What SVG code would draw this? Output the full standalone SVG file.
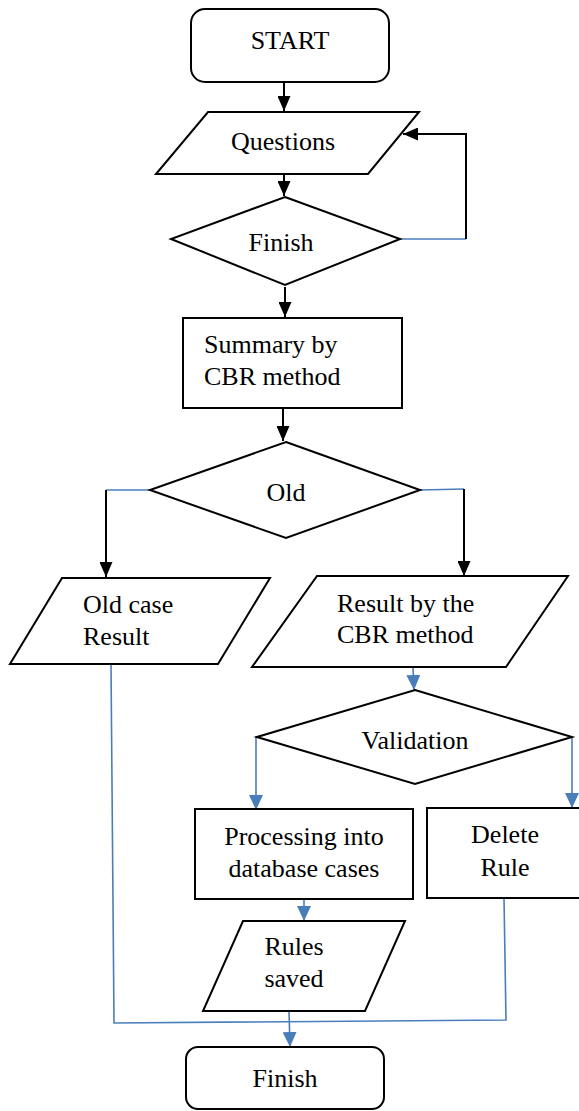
<svg xmlns="http://www.w3.org/2000/svg" width="579" height="1111" viewBox="0 0 579 1111">
<style>
.n{fill:#fff;stroke:#000;stroke-width:2}
.t{font-family:"Liberation Serif","Times New Roman",serif;font-size:26px;fill:#000}
.c{text-anchor:middle}
.k{fill:none;stroke:#000;stroke-width:2}
.b{fill:none;stroke:#4a7ebb;stroke-width:1.6}
</style>
<defs>
<marker id="ak" markerUnits="userSpaceOnUse" markerWidth="15" markerHeight="13" refX="15" refY="6.5" orient="auto"><path d="M0,0 L15,6.5 L0,13 z" fill="#000"/></marker>
<marker id="ab" markerUnits="userSpaceOnUse" markerWidth="15" markerHeight="14" refX="15" refY="7" orient="auto"><path d="M0,0 L15,7 L0,14 z" fill="#4a7ebb"/></marker>
</defs>
<rect width="579" height="1111" fill="#fff"/>
<g id="connectors">
<line class="k" x1="284" y1="83" x2="284" y2="111" marker-end="url(#ak)"/>
<line class="k" x1="284" y1="174" x2="284" y2="196" marker-end="url(#ak)"/>
<line class="b" x1="400" y1="239" x2="466" y2="239"/>
<polyline class="k" points="466,239 466,134 403,134" marker-end="url(#ak)"/>
<line class="k" x1="285" y1="287" x2="285" y2="317" marker-end="url(#ak)"/>
<line class="k" x1="283" y1="408" x2="283" y2="441" marker-end="url(#ak)"/>
<line class="b" x1="150" y1="490" x2="106" y2="490"/>
<line class="k" x1="106" y1="490" x2="106" y2="577" marker-end="url(#ak)"/>
<line class="b" x1="420" y1="490" x2="464" y2="489"/>
<line class="k" x1="464" y1="489" x2="464" y2="576" marker-end="url(#ak)"/>
<line class="b" x1="413" y1="667" x2="414" y2="690" marker-end="url(#ab)"/>
<line class="b" x1="256" y1="737" x2="256" y2="810" marker-end="url(#ab)"/>
<line class="b" x1="572" y1="737" x2="572" y2="808" marker-end="url(#ab)"/>
<line class="b" x1="304" y1="899" x2="304" y2="921" marker-end="url(#ab)"/>
<polyline class="b" points="111,664 114,1023 506,1020 504,898"/>
<line class="b" x1="289" y1="1011" x2="290" y2="1047" marker-end="url(#ab)"/>
</g>
<g id="start">
<rect class="n" x="191" y="9" width="198" height="73" rx="14"/>
<text class="t c" x="290" y="49">START</text>
</g>
<g id="questions">
<polygon class="n" points="208,112 419,112 368,174 156,174"/>
<text class="t c" x="283" y="150">Questions</text>
</g>
<g id="finish-decision">
<polygon class="n" points="285,197 400,239 285,285 171,239"/>
<text class="t c" x="281" y="251">Finish</text>
</g>
<g id="summary">
<rect class="n" x="183" y="318" width="219" height="90"/>
<text class="t" x="204" y="353">Summary by</text>
<text class="t" x="204" y="385">CBR method</text>
</g>
<g id="old">
<polygon class="n" points="286,442 420,490 286,538 150,490"/>
<text class="t c" x="286" y="501">Old</text>
</g>
<g id="old-case-result">
<polygon class="n" points="62,578 270,578 218,664 10,664"/>
<text class="t" x="83" y="613">Old case</text>
<text class="t" x="83" y="645">Result</text>
</g>
<g id="result-cbr">
<polygon class="n" points="317,576 568,576 506,667 252,667"/>
<text class="t" x="337" y="612">Result by the</text>
<text class="t" x="337" y="643">CBR method</text>
</g>
<g id="validation">
<polygon class="n" points="415,690 572,737 415,784 257,737"/>
<text class="t c" x="415" y="749">Validation</text>
</g>
<g id="processing">
<rect class="n" x="195" y="809" width="218" height="90"/>
<text class="t c" x="304" y="845">Processing into</text>
<text class="t c" x="304" y="877">database cases</text>
</g>
<g id="delete-rule">
<rect class="n" x="427" y="808" width="160" height="90"/>
<text class="t c" x="505" y="843">Delete</text>
<text class="t c" x="505" y="876">Rule</text>
</g>
<g id="rules-saved">
<polygon class="n" points="243,921 405,921 365,1011 203,1011"/>
<text class="t c" x="294" y="955">Rules</text>
<text class="t c" x="294" y="987">saved</text>
</g>
<g id="finish">
<rect class="n" x="186" y="1047" width="198" height="62" rx="12"/>
<text class="t c" x="285" y="1087">Finish</text>
</g>
</svg>
